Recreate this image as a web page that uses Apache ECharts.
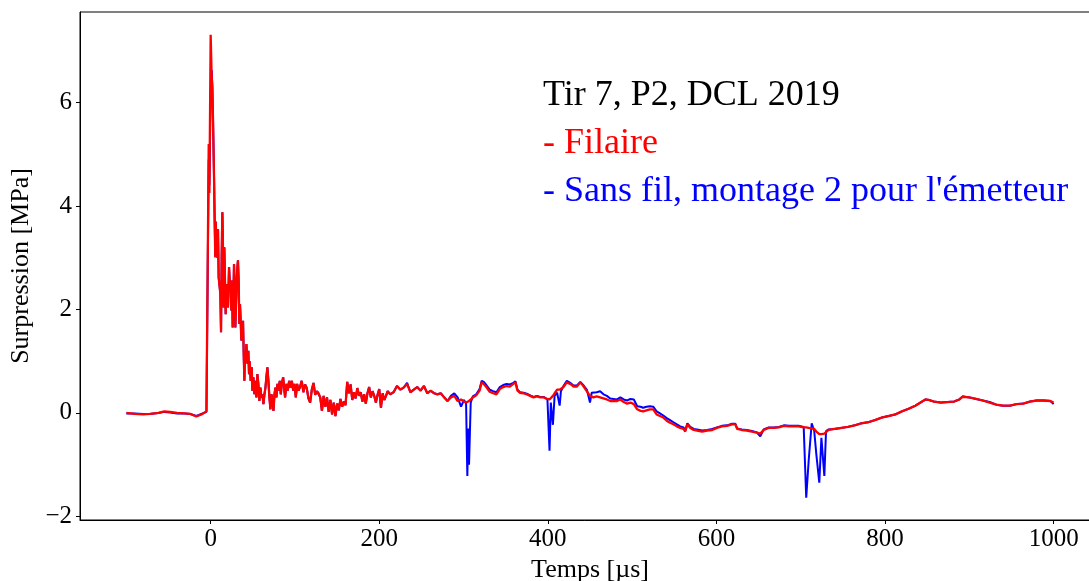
<!DOCTYPE html>
<html>
<head>
<meta charset="utf-8">
<style>
  html, body { margin: 0; padding: 0; background: #fff; }
  #chart { width: 1089px; height: 581px; }
</style>
<script src="https://cdn.jsdelivr.net/npm/echarts@6/dist/echarts.min.js"></script>
</head>
<body>
<div id="chart"></div>
<script>
// Time base shared by both gauges [µs]
const timeUs = [
  -100, -90, -80, -72, -62, -55, -48, -40, -31, -24, -17, -11, -5, -3.5,
  -2.3, -1.5, 0, 1.2, 2.0, 2.8, 4.0, 4.75, 5.5, 5.9,
  7.1, 7.9, 8.7, 9.5, 11.5, 12.3, 13.1, 13.9, 14.6, 15.4,
  16.2, 17.0, 17.8, 18.6, 19.4, 20.6, 21.8, 22.6, 23.7, 24.5,
  25.3, 26.1, 26.9, 27.7, 28.5, 29.3, 30.1, 30.9, 31.7, 32.4,
  33.2, 34.0, 34.8, 35.6, 36.4, 37.6, 38.4, 39.2, 40.0, 40.8,
  41.6, 42.4, 43.6, 44.7, 45.5, 46.3, 47.5, 48.7, 49.5, 50.7,
  51.9, 53.1, 54.3, 55.4, 56.6, 57.8, 59.0, 60.2, 61.4, 62.6,
  63.8, 65.0, 66.1, 67.3, 68.5, 69.7, 70.9, 72.1, 73.3, 74.5,
  75.7, 76.8, 78.0, 79.2, 80.4, 82.0, 83.2, 84.4, 86.0, 87.1,
  88.3, 89.9, 91.5, 93.1, 94.7, 96.3, 97.9, 99.4, 101.0, 102.6,
  104.2,
  106, 108, 110, 112, 114, 116, 118, 120, 122, 124,
  126, 128, 130, 132, 134, 136, 138, 140, 142, 144,
  146, 148, 150, 152, 154, 156, 158, 160, 162, 164,
  166, 168, 170, 172, 174, 176, 178, 180, 182, 184,
  186, 188, 190, 192, 194, 196, 198, 200, 202, 204,
  206, 208, 210, 213, 217, 221, 225, 229, 233, 237,
  241, 245, 249, 253, 257, 261, 265, 269, 273, 277,
  281, 285, 289, 293, 297, 300.5,
  303, 304.5, 305.5, 306.5, 308.5, 311, 315, 319, 321.5, 324,
  327, 331, 335, 339, 343, 347, 351, 355, 359, 361.5,
  364, 367, 371, 375, 379, 383, 387, 391, 395, 399.5,
  402, 403.5, 406, 408, 411, 414, 415.5, 418.5, 422.5, 426.5,
  430.5, 434.5, 438.5, 442.5, 446.5, 450, 452, 454, 458, 462,
  466, 470, 474, 478, 482, 486, 490, 494, 498, 502,
  506, 510,
  513, 517, 521, 525, 529, 533, 537, 541, 545, 549,
  553, 557, 561, 563, 565.5, 569, 573, 577, 583, 589,
  595, 600.5, 606.5, 612.5, 618.5, 622.5, 624.5, 630, 636, 642,
  648, 652, 656, 662, 668, 674, 680, 686, 692, 697.5,
  703.5, 706.5, 709.5, 713, 716, 718.5, 722, 724.5, 726.5, 728,
  730, 733,
  740, 748, 756, 764, 772, 780, 788, 796, 804, 812,
  820, 828, 836, 842, 848, 852, 858, 866, 874, 882,
  888, 892, 900, 908, 916, 924, 932, 940, 948, 956,
  964, 972, 980, 988, 996, 1000
];

// Wired gauge ("Filaire") [MPa]
const filaire = [
  0.00, -0.02, -0.03, -0.02, 0.00, 0.03, 0.02, 0.00, -0.01, -0.02, -0.07, -0.03, 0.03, 0.05,
  5.2, 4.25, 7.31, 6.5, 6.3, 5.66, 4.56, 3.72, 3.01, 3.7,
  3.67, 3.0, 3.55, 2.62, 2.3, 1.56, 3.08, 3.88, 3.2, 2.04,
  3.2, 2.56, 1.91, 2.3, 2.49, 2.04, 2.82, 2.56, 2.5, 1.98,
  2.56, 1.65, 2.17, 2.88, 2.42, 1.65, 2.1, 2.56, 2.82, 2.95,
  2.56, 1.72, 2.1, 1.78, 1.4, 1.5, 1.78, 1.14, 0.62, 1.2,
  1.0, 1.33, 0.95, 1.2, 0.75, 1.0, 0.62, 0.88, 0.43, 0.69,
  0.36, 0.62, 0.3, 0.75, 0.56, 0.23, 0.49, 0.3, 0.36, 0.17,
  0.36, 0.49, 0.69, 0.88, 0.62, 0.3, 0.07, 0.36, 0.23, 0.04,
  0.36, 0.49, 0.3, 0.56, 0.43, 0.62, 0.36, 0.56, 0.69, 0.49,
  0.3, 0.56, 0.43, 0.62, 0.49, 0.62, 0.43, 0.56, 0.3, 0.56,
  0.43,
  0.5, 0.62, 0.4, 0.55, 0.48, 0.28, 0.2, 0.45, 0.58, 0.35,
  0.42, 0.38, 0.3, 0.04, 0.33, 0.12, 0.3, 0.02, 0.25, -0.03,
  0.2, -0.06, 0.18, 0.05, 0.27, 0.12, 0.22, 0.15, 0.6, 0.38,
  0.55, 0.25, 0.4, 0.28, 0.48, 0.33, 0.4, 0.22, 0.36, 0.18,
  0.38, 0.5, 0.3, 0.42, 0.33, 0.2, 0.35, 0.46, 0.1, 0.38,
  0.25, 0.33, 0.42, 0.36, 0.4, 0.52, 0.45, 0.49, 0.56, 0.4,
  0.45, 0.5, 0.43, 0.52, 0.38, 0.43, 0.38, 0.36, 0.38, 0.3,
  0.23, 0.3, 0.33, 0.23, 0.26, 0.22,
  0.2, 0.2, 0.22, 0.24, 0.26, 0.3, 0.34, 0.43, 0.59, 0.56,
  0.5, 0.41, 0.38, 0.36, 0.46, 0.5, 0.52, 0.51, 0.56, 0.59,
  0.43, 0.39, 0.38, 0.36, 0.33, 0.3, 0.32, 0.3, 0.3, 0.27,
  0.26, 0.28, 0.33, 0.38, 0.45, 0.45, 0.47, 0.5, 0.59, 0.56,
  0.51, 0.51, 0.59, 0.51, 0.41, 0.33, 0.31, 0.3, 0.32, 0.3,
  0.28, 0.26, 0.23, 0.23, 0.23, 0.26, 0.21, 0.18, 0.2, 0.17,
  0.07, 0.04,
  0.03, 0.05, 0.07, 0.07, -0.03, -0.06, -0.09, -0.15, -0.19, -0.22,
  -0.26, -0.29, -0.31, -0.36, -0.22, -0.29, -0.33, -0.34, -0.36, -0.34,
  -0.33, -0.29, -0.26, -0.25, -0.22, -0.22, -0.31, -0.33, -0.34, -0.36,
  -0.38, -0.4, -0.33, -0.29, -0.29, -0.28, -0.25, -0.26, -0.26, -0.26,
  -0.28, -0.28, -0.29, -0.3, -0.31, -0.36, -0.41, -0.41, -0.4, -0.4,
  -0.37, -0.33,
  -0.31, -0.29, -0.27, -0.24, -0.2, -0.18, -0.14, -0.09, -0.06, -0.03,
  0.03, 0.08, 0.14, 0.2, 0.26, 0.25, 0.22, 0.2, 0.21, 0.22,
  0.26, 0.31, 0.3, 0.27, 0.24, 0.2, 0.16, 0.14, 0.14, 0.17,
  0.18, 0.22, 0.24, 0.24, 0.23, 0.2
];

// Wireless gauge, transmitter mounting 2 ("Sans fil") [MPa]
const sansFil = [
  -0.01, -0.01, -0.02, -0.02, 0.00, 0.02, 0.01, -0.01, -0.01, -0.02, -0.06, -0.02, 0.02, 0.04,
  4.9, 4.4, 6.2, 6.63, 6.3, 5.66, 4.56, 3.72, 3.01, 3.7,
  3.67, 3.0, 3.55, 2.62, 2.3, 1.56, 3.08, 3.88, 3.2, 2.04,
  3.2, 2.56, 1.91, 2.3, 2.49, 2.04, 2.82, 2.56, 2.5, 1.98,
  2.56, 1.65, 2.17, 2.88, 2.42, 1.65, 2.1, 2.56, 2.82, 2.95,
  2.56, 1.72, 2.1, 1.78, 1.4, 1.5, 1.78, 1.14, 0.62, 1.2,
  1.0, 1.33, 0.95, 1.2, 0.75, 1.0, 0.62, 0.88, 0.43, 0.69,
  0.36, 0.62, 0.3, 0.75, 0.56, 0.23, 0.49, 0.3, 0.36, 0.17,
  0.36, 0.49, 0.69, 0.88, 0.62, 0.3, 0.07, 0.36, 0.23, 0.04,
  0.36, 0.49, 0.3, 0.56, 0.43, 0.62, 0.36, 0.56, 0.69, 0.49,
  0.3, 0.56, 0.43, 0.62, 0.49, 0.62, 0.43, 0.56, 0.3, 0.56,
  0.43,
  0.5, 0.62, 0.4, 0.55, 0.48, 0.28, 0.2, 0.45, 0.58, 0.35,
  0.42, 0.4, 0.3, 0.04, 0.33, 0.12, 0.3, 0.02, 0.25, -0.03,
  0.2, -0.06, 0.18, 0.05, 0.27, 0.12, 0.22, 0.15, 0.6, 0.38,
  0.55, 0.25, 0.4, 0.28, 0.48, 0.33, 0.4, 0.22, 0.36, 0.18,
  0.38, 0.5, 0.3, 0.42, 0.33, 0.2, 0.35, 0.46, 0.1, 0.38,
  0.25, 0.33, 0.42, 0.36, 0.4, 0.52, 0.45, 0.49, 0.58, 0.4,
  0.45, 0.5, 0.43, 0.52, 0.38, 0.43, 0.38, 0.36, 0.38, 0.3,
  0.23, 0.33, 0.38, 0.3, 0.12, 0.25,
  0.18, -1.22, -0.3, -1.0, 0.2, 0.32, 0.36, 0.46, 0.62, 0.6,
  0.54, 0.45, 0.42, 0.4, 0.5, 0.54, 0.56, 0.55, 0.58, 0.61,
  0.45, 0.4, 0.39, 0.37, 0.34, 0.31, 0.33, 0.31, 0.31, 0.26,
  -0.73, 0.2, -0.23, 0.33, 0.39, 0.14, 0.42, 0.52, 0.62, 0.58,
  0.53, 0.53, 0.6, 0.53, 0.44, 0.2, 0.39, 0.42, 0.4, 0.42,
  0.36, 0.33, 0.28, 0.27, 0.26, 0.3, 0.26, 0.24, 0.27, 0.26,
  0.13, 0.12,
  0.1, 0.12, 0.13, 0.12, 0.03, -0.01, -0.05, -0.1, -0.14, -0.18,
  -0.22, -0.26, -0.28, -0.34, -0.2, -0.27, -0.31, -0.32, -0.34, -0.33,
  -0.31, -0.28, -0.25, -0.24, -0.21, -0.21, -0.3, -0.32, -0.33, -0.35,
  -0.38, -0.45, -0.32, -0.28, -0.28, -0.27, -0.24, -0.25, -0.25, -0.25,
  -0.27, -1.64, -0.9, -0.2, -0.35, -0.8, -1.35, -0.48, -0.45, -1.22,
  -0.35, -0.32,
  -0.31, -0.29, -0.27, -0.24, -0.2, -0.18, -0.14, -0.09, -0.06, -0.03,
  0.03, 0.08, 0.14, 0.2, 0.26, 0.25, 0.22, 0.2, 0.21, 0.22,
  0.26, 0.32, 0.3, 0.27, 0.24, 0.21, 0.16, 0.14, 0.14, 0.17,
  0.18, 0.22, 0.24, 0.24, 0.23, 0.17
];

// Axis ticks
const xTicks = [0, 200, 400, 600, 800, 1000];
const yTicks = [-2, 0, 2, 4, 6];

// Annotation lines
const titleText = 'Tir 7, P2, DCL 2019';
const filaireText = '- Filaire';
const sansFilText = "- Sans fil, montage 2 pour l'émetteur";

const FONT = '"Liberation Serif", "DejaVu Serif", serif';

const toPairs = (vals) => timeUs.map((t, i) => [t, vals[i]]);

const chart = echarts.init(document.getElementById('chart'), null, { renderer: 'canvas' });

chart.setOption({
  animation: false,
  backgroundColor: '#ffffff',
  grid: {
    left: 80, top: 12, width: 1020, height: 508,
    outerBoundsMode: 'none', containLabel: false,
    show: true, borderColor: '#000', borderWidth: 1, backgroundColor: 'transparent'
  },
  xAxis: {
    type: 'value', min: -155, max: 1055,
    name: 'Temps [µs]', nameLocation: 'middle', nameGap: 33,
    nameTextStyle: { fontFamily: FONT, fontSize: 26, color: '#000' },
    axisLine: { show: true, onZero: false, lineStyle: { color: '#000', width: 1 } },
    axisTick: { show: true, inside: false, length: 4, customValues: xTicks, lineStyle: { color: '#000' } },
    axisLabel: {
      customValues: xTicks, margin: 7, fontFamily: FONT, fontSize: 25, color: '#000',
      formatter: (v) => String(v)
    },
    splitLine: { show: false }
  },
  yAxis: {
    type: 'value', min: -2.07, max: 7.75,
    name: 'Surpression [MPa]', nameLocation: 'middle', nameGap: 46,
    nameTextStyle: { fontFamily: FONT, fontSize: 26, color: '#000' },
    axisLine: { show: true, onZero: false, lineStyle: { color: '#000', width: 1 } },
    axisTick: { show: true, inside: false, length: 4, customValues: yTicks, lineStyle: { color: '#000' } },
    axisLabel: {
      customValues: yTicks, margin: 8, fontFamily: FONT, fontSize: 25, color: '#000',
      formatter: (v) => (v < 0 ? '\u2212' + Math.abs(v) : String(v))
    },
    splitLine: { show: false }
  },
  series: [
    {
      name: 'Sans fil', type: 'line', data: toPairs(sansFil),
      showSymbol: false, symbol: 'none', sampling: null,
      lineStyle: { color: '#0000ff', width: 2 }, z: 2
    },
    {
      name: 'Filaire', type: 'line', data: toPairs(filaire),
      showSymbol: false, symbol: 'none', sampling: null,
      lineStyle: { color: '#ff0000', width: 2.3 }, z: 3
    }
  ],
  graphic: [
    { type: 'text', left: 543, top: 78, style: { text: titleText, font: '36px ' + FONT, fill: '#000' } },
    { type: 'text', left: 543, top: 126, style: { text: filaireText, font: '36px ' + FONT, fill: '#ff0000' } },
    { type: 'text', left: 543, top: 174, style: { text: sansFilText, font: '36px ' + FONT, fill: '#0000ff' } }
  ]
});
</script>
</body>
</html>
